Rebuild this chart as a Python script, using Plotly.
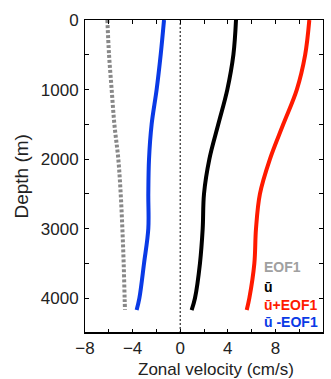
import plotly.graph_objects as go

depth = [0, 500, 1000, 1500, 2000, 2500, 3000, 3500, 4000, 4170]
u_mean = [4.69, 4.47, 3.96, 3.20, 2.45, 2.00, 1.89, 1.66, 1.24, 0.96]
u_plus = [10.85, 10.50, 9.80, 8.66, 7.54, 6.70, 6.37, 6.23, 5.81, 5.59]
u_minus = [-1.36, -1.64, -1.98, -2.40, -2.62, -2.68, -2.68, -3.04, -3.43, -3.66]
eof1 = [-6.12, -5.98, -5.76, -5.53, -5.20, -5.00, -4.86, -4.75, -4.67, -4.64]

legend_labels = ["EOF1", "ū", "ū+EOF1", "ū -EOF1"]
legend_colors = ["#a0a0a0", "#000000", "#ff1a00", "#0a3ae6"]

x_ticks = [-8, -4, 0, 4, 8, 12]
y_ticks = [0, 1000, 2000, 3000, 4000]

font = "Liberation Sans, Arial, sans-serif"

fig = go.Figure()
fig.add_trace(go.Scatter(x=eof1, y=depth, mode="lines", line=dict(color="#888888", width=4, dash="3px,2px", shape="spline")))
fig.add_trace(go.Scatter(x=u_minus, y=depth, mode="lines", line=dict(color=legend_colors[3], width=4, shape="spline")))
fig.add_trace(go.Scatter(x=u_mean, y=depth, mode="lines", line=dict(color="#000000", width=4, shape="spline")))
fig.add_trace(go.Scatter(x=u_plus, y=depth, mode="lines", line=dict(color=legend_colors[2], width=4, shape="spline")))

# zero line
fig.add_shape(type="line", xref="x", yref="paper", x0=0, x1=0, y0=0, y1=1,
              line=dict(color="black", width=1, dash="2px,2px"))
# thicker bottom axis line
fig.add_shape(type="line", xref="paper", yref="paper", x0=0, x1=1, y0=0, y1=0,
              line=dict(color="black", width=2))

ys = [267, 287, 305, 322]
for lab, col, yp in zip(legend_labels, legend_colors, ys):
    fig.add_annotation(text="<b>" + lab + "</b>", xref="paper", yref="paper",
                       x=(262 - 85) / 238.3, y=(333 - yp) / 313,
                       xanchor="left", yanchor="middle", showarrow=False,
                       font=dict(family=font, size=14, color=col))

fig.add_annotation(text="Zonal velocity (cm/s)", xref="paper", yref="paper",
                   x=(216 - 85) / 238.3, y=-(369 - 333) / 313, xanchor="center", yanchor="middle",
                   showarrow=False, font=dict(family=font, size=17, color="#222222"))
fig.add_annotation(text="Depth (m)", xref="paper", yref="paper", textangle=-90,
                   x=-(85 - 21) / 238.3, y=0.5, xanchor="center", yanchor="middle",
                   showarrow=False, font=dict(family=font, size=19, color="#222222"))

fig.update_layout(
    width=331, height=379,
    margin=dict(l=85, r=8, t=20, b=46),
    paper_bgcolor="white", plot_bgcolor="white",
    showlegend=False,
    font=dict(family=font, size=17, color="#222222"),
    xaxis=dict(range=[-8, 12], tickvals=x_ticks, ticks="inside", ticklen=4, tickwidth=1,
               tickcolor="black", showline=True, linecolor="black", linewidth=1,
               mirror="allticks", showgrid=False, zeroline=False,
               minor=dict(dtick=2, ticks="inside", ticklen=4, tickcolor="black", showgrid=False),
               ticklabelstandoff=0, tickfont=dict(size=17, color="#222222")),
    yaxis=dict(range=[4500, 0], tickvals=y_ticks, ticks="inside", ticklen=4, tickwidth=1,
               tickcolor="black", showline=True, linecolor="black", linewidth=1,
               mirror="allticks", showgrid=False, zeroline=False,
               minor=dict(dtick=500, ticks="inside", ticklen=4, tickcolor="black", showgrid=False),
               ticklabelstandoff=2, tickfont=dict(size=17, color="#222222")),
)

fig.write_html("out.html")
